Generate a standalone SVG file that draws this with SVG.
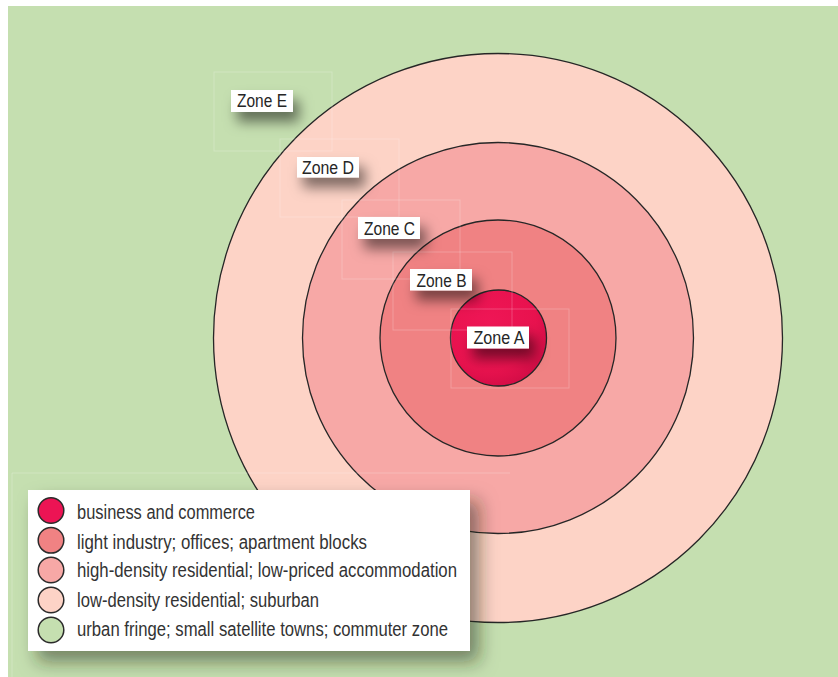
<svg xmlns="http://www.w3.org/2000/svg" width="838" height="677" viewBox="0 0 838 677">
<defs>
<style>
.ring{stroke:#262626;stroke-width:1.3}
.lbl{fill:#fff}
.lt{font-family:"Liberation Sans",Arial,sans-serif;font-size:18px;fill:#262626;text-anchor:middle}
.leg{font-family:"Liberation Sans",Arial,sans-serif;font-size:20px;fill:#333}
.sw{stroke:#2a2a2a;stroke-width:1.5}
.frame{fill:none;stroke:#ffffff;stroke-opacity:0.22;stroke-width:1}
</style>
<filter id="sh" x="-50%" y="-50%" width="220%" height="280%">
<feDropShadow dx="6" dy="10" stdDeviation="6.5" flood-color="#000" flood-opacity="0.5"/>
</filter>
<filter id="sh2" x="-15%" y="-15%" width="135%" height="150%">
<feDropShadow dx="9" dy="11" stdDeviation="9" flood-color="#1a2a10" flood-opacity="0.5"/>
</filter>
<radialGradient id="gA" cx="0.4" cy="0.35" r="0.7">
<stop offset="0" stop-color="#ef1656"/>
<stop offset="0.7" stop-color="#e8124e"/>
<stop offset="1" stop-color="#d00c45"/>
</radialGradient>
</defs>
<rect x="0" y="0" width="838" height="677" fill="#ffffff"/>
<rect x="8" y="6" width="830" height="671" fill="#c5dfb0"/>

<g id="zoneE-ring"><circle class="ring" cx="498" cy="338" r="284.5" fill="#fdd3c6"/></g>
<g id="zoneC-ring"><circle class="ring" cx="498" cy="338" r="195.5" fill="#f7a8a6"/></g>
<g id="zoneB-ring"><circle class="ring" cx="498" cy="338" r="118" fill="#f08283"/></g>
<g id="zoneA-ring"><circle class="ring" cx="498.5" cy="338" r="48" fill="url(#gA)"/></g>

<g id="frames">
<rect class="frame" x="214" y="72" width="118" height="79"/>
<rect class="frame" x="280" y="139" width="119" height="78"/>
<rect class="frame" x="342" y="200" width="118" height="79"/>
<rect class="frame" x="393" y="252" width="119" height="78"/>
<rect class="frame" x="451" y="309" width="118" height="79"/>
<path class="frame" d="M12 677 V473 H510"/>
</g>

<g id="labelE"><rect class="lbl" x="231" y="90" width="62" height="22" filter="url(#sh)"/><text class="lt" x="262" y="107" textLength="50" lengthAdjust="spacingAndGlyphs">Zone E</text></g>
<g id="labelD"><rect class="lbl" x="297" y="157" width="62" height="20.5" filter="url(#sh)"/><text class="lt" x="328" y="174.3" textLength="52" lengthAdjust="spacingAndGlyphs">Zone D</text></g>
<g id="labelC"><rect class="lbl" x="358" y="217" width="62" height="22" filter="url(#sh)"/><text class="lt" x="389.5" y="234.5" textLength="51" lengthAdjust="spacingAndGlyphs">Zone C</text></g>
<g id="labelB"><rect class="lbl" x="410" y="269" width="62" height="21.5" filter="url(#sh)"/><text class="lt" x="441.5" y="286.5" textLength="50" lengthAdjust="spacingAndGlyphs">Zone B</text></g>
<g id="labelA"><rect class="lbl" x="467" y="326.5" width="62" height="22" filter="url(#sh)"/><text class="lt" x="499" y="344" textLength="51" lengthAdjust="spacingAndGlyphs">Zone A</text></g>

<g id="legend">
<rect x="28" y="490" width="442" height="161" fill="#ffffff" filter="url(#sh2)"/>
<circle class="sw" cx="51" cy="510.5" r="12.8" fill="#ec1454"/>
<circle class="sw" cx="51" cy="540.3" r="12.8" fill="#f08283"/>
<circle class="sw" cx="51" cy="570" r="12.8" fill="#f7a8a6"/>
<circle class="sw" cx="51" cy="600" r="12.8" fill="#fdd3c6"/>
<circle class="sw" cx="51" cy="630" r="12.8" fill="#c5dfb0"/>
<text class="leg" x="77" y="519.3" textLength="178" lengthAdjust="spacingAndGlyphs">business and commerce</text>
<text class="leg" x="77" y="548.5" textLength="290" lengthAdjust="spacingAndGlyphs">light industry; offices; apartment blocks</text>
<text class="leg" x="77" y="577" textLength="380" lengthAdjust="spacingAndGlyphs">high-density residential; low-priced accommodation</text>
<text class="leg" x="77" y="606.5" textLength="242" lengthAdjust="spacingAndGlyphs">low-density residential; suburban</text>
<text class="leg" x="77" y="635.7" textLength="371" lengthAdjust="spacingAndGlyphs">urban fringe; small satellite towns; commuter zone</text>
</g>
</svg>
